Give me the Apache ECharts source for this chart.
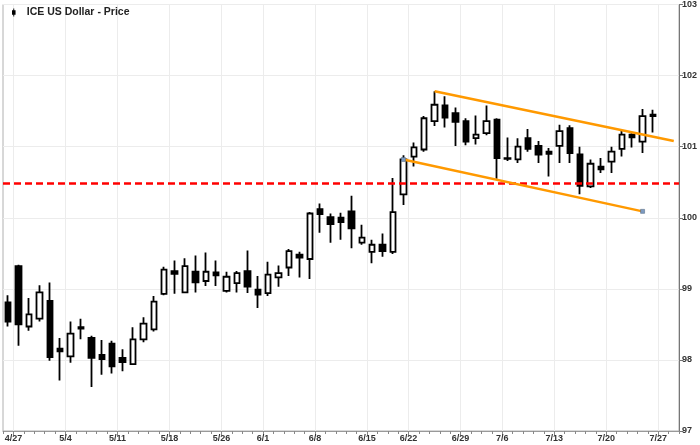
<!DOCTYPE html>
<html><head><meta charset="utf-8">
<script src="https://cdn.jsdelivr.net/npm/echarts@6/dist/echarts.min.js"></script>
<style>html,body{margin:0;padding:0;background:#fff}#c{width:700px;height:445px}</style>
</head><body><div id="c"></div>
<script>
const tradingDays = ['4/24','4/27','4/28','4/29','4/30','5/1','5/4','5/5','5/6','5/7','5/8',
  '5/11','5/12','5/13','5/14','5/15','5/18','5/19','5/20','5/21','5/22',
  '5/26','5/27','5/28','5/29','6/1','6/2','6/3','6/4','6/5','6/8','6/9','6/10','6/11','6/12',
  '6/15','6/16','6/17','6/18','6/22','6/23','6/24','6/25','6/26','6/29','6/30','7/1','7/2',
  '7/6','7/7','7/8','7/9','7/10','7/13','7/14','7/15','7/16','7/17','7/20','7/21','7/22','7/23','7/24'];
const padDays = ['7/27','7/28'];
const opens  = [98.81,99.32,98.47,98.58,98.83,98.16,98.05,98.46,98.31,98.07,98.23,
  98.03,97.94,98.29,98.43,98.93,99.25,98.95,99.24,99.11,99.23,
  98.97,99.08,99.25,98.99,98.94,99.16,99.30,99.48,99.42,100.12,100.01,100.00,100.09,99.65,
  99.52,99.62,99.52,100.33,100.86,100.96,101.36,101.58,101.47,101.36,101.12,101.19,101.38,
  100.84,100.82,101.12,101.01,100.93,101.01,101.26,100.89,100.44,100.72,100.79,100.97,101.17,101.07,101.45];
const highs  = [98.91,99.34,98.87,99.05,99.09,98.31,98.54,98.58,98.34,98.28,98.27,
  98.15,98.46,98.60,98.90,99.31,99.40,99.43,99.47,99.51,99.40,
  99.24,99.25,99.54,99.18,99.38,99.33,99.56,99.52,100.08,100.20,100.06,100.07,100.31,99.90,
  99.69,99.78,100.56,100.88,101.06,101.43,101.78,101.71,101.55,101.40,101.44,101.58,101.40,
  101.13,101.12,101.25,101.08,100.98,101.31,101.30,101.00,100.82,100.84,101.00,101.22,101.19,101.53,101.52];
const lows   = [98.47,98.20,98.41,98.54,97.99,97.71,97.96,98.29,97.62,97.79,97.81,
  97.84,97.93,98.25,98.40,98.91,98.93,98.95,98.95,99.04,99.04,
  98.95,98.95,98.94,98.73,98.90,99.03,99.18,99.16,99.14,99.79,99.65,99.69,99.57,99.62,
  99.36,99.45,99.49,100.18,100.72,100.93,101.29,101.27,101.01,101.02,101.03,101.16,100.55,
  100.80,100.77,100.93,100.77,100.58,100.77,100.77,100.33,100.42,100.63,100.63,100.86,100.99,100.91,101.20];
const closes = [98.54,98.50,98.64,98.95,98.04,98.12,98.37,98.44,98.03,98.01,97.91,
  97.97,98.29,98.51,98.82,99.27,99.21,99.32,99.09,99.24,99.19,
  99.17,99.22,99.03,98.92,99.20,99.22,99.53,99.44,100.06,100.05,99.91,99.94,99.85,99.72,
  99.62,99.53,100.08,100.82,100.99,101.40,101.59,101.41,101.35,101.07,101.17,101.36,100.84,
  100.83,101.00,100.97,100.89,100.90,101.22,100.91,100.45,100.76,100.68,100.93,101.17,101.13,101.43,101.43];
const weekTicks = ['4/27','5/4','5/11','5/18','5/26','6/1','6/8','6/15','6/22','6/29','7/6','7/13','7/20','7/27'];
const yMin = 97, yMax = 103, yStep = 1;
const supportLevel = 100.49;
const upperChannel = [['6/24',101.78],['7/28',101.08]];
const lowerChannel = [['6/18',100.82],['7/23',100.09]];

const categories = tradingDays.concat(padDays);
const boundaries = categories.concat(['end']);
const candleData = tradingDays.map((d,i) => [opens[i], closes[i], lows[i], highs[i]]);
const isWeek = (idx, v) => weekTicks.includes(v);

const chart = echarts.init(document.getElementById('c'), null, {renderer:'canvas'});
chart.setOption({
  animation: false,
  backgroundColor: '#fff',
  grid: {left: 2, right: 20, top: 3, bottom: 14, show: true, borderColor: '#b0b0b0', borderWidth: 1},
  legend: {
    data: ['ICE US Dollar - Price'], left: 12, top: 7, padding: 0,
    itemWidth: 4, itemHeight: 8,
    icon: 'path://M1.5,0h1v2h1.5v5h-1.5v2h-1v-2h-1.5v-5h1.5z',
    itemStyle: {color: '#000', borderWidth: 0},
    textStyle: {fontFamily: 'Liberation Sans, Arial, sans-serif', fontSize: 10.5, fontWeight: 'bold', color: '#222', padding: [0,0,0,6]},
    selectedMode: false
  },
  xAxis: [{
    type: 'category', data: categories, boundaryGap: true,
    axisLine: {show: true, lineStyle: {color: '#999', width: 1}},
    axisTick: {show: true, interval: 0, length: 3, lineStyle: {color: '#888'}},
    axisLabel: {show: false}, splitLine: {show: false}
  }, {
    type: 'category', data: boundaries, boundaryGap: false, position: 'bottom',
    axisLine: {show: false},
    axisTick: {show: true, interval: isWeek, length: 5, lineStyle: {color: '#888'}},
    axisLabel: {interval: 0, formatter: v => weekTicks.includes(v) ? v : '', margin: 3,
      fontFamily: 'Liberation Sans, Arial, sans-serif', fontSize: 9, fontWeight: 'bold', color: '#333'},
    splitLine: {show: true, interval: isWeek, lineStyle: {color: '#ececec', width: 1}}
  }],
  yAxis: {
    type: 'value', position: 'right', min: yMin, max: yMax, interval: yStep,
    axisLine: {show: true, lineStyle: {color: '#777'}},
    axisTick: {show: true, length: 4, lineStyle: {color: '#777'}},
    axisLabel: {margin: 3, fontFamily: 'Liberation Sans, Arial, sans-serif', fontSize: 9, fontWeight: 'bold', color: '#333'},
    splitLine: {show: true, lineStyle: {color: '#ececec'}}
  },
  series: [{
    name: 'ICE US Dollar - Price', type: 'candlestick', xAxisIndex: 0,
    data: candleData, barWidth: 6,
    itemStyle: {color: '#fff', color0: '#000', borderColor: '#000', borderColor0: '#000', borderWidth: 1.8},
    markLine: {
      silent: true, symbol: 'none', label: {show: false}, z: 5,
      lineStyle: {color: '#ff0000', type: [7,4], width: 2.5},
      data: [{yAxis: supportLevel}]
    }
  }, {
    type: 'line', xAxisIndex: 0, data: upperChannel, symbol: 'none', z: 6, silent: true,
    lineStyle: {color: '#ff9900', width: 2.5}
  }, {
    type: 'line', xAxisIndex: 0, data: lowerChannel, symbol: 'rect', symbolSize: 4, z: 6, silent: true,
    itemStyle: {color: '#7d9bc2', borderColor: '#4a607a', borderWidth: 0.5},
    lineStyle: {color: '#ff9900', width: 2.5}
  }]
});
</script></body></html>
